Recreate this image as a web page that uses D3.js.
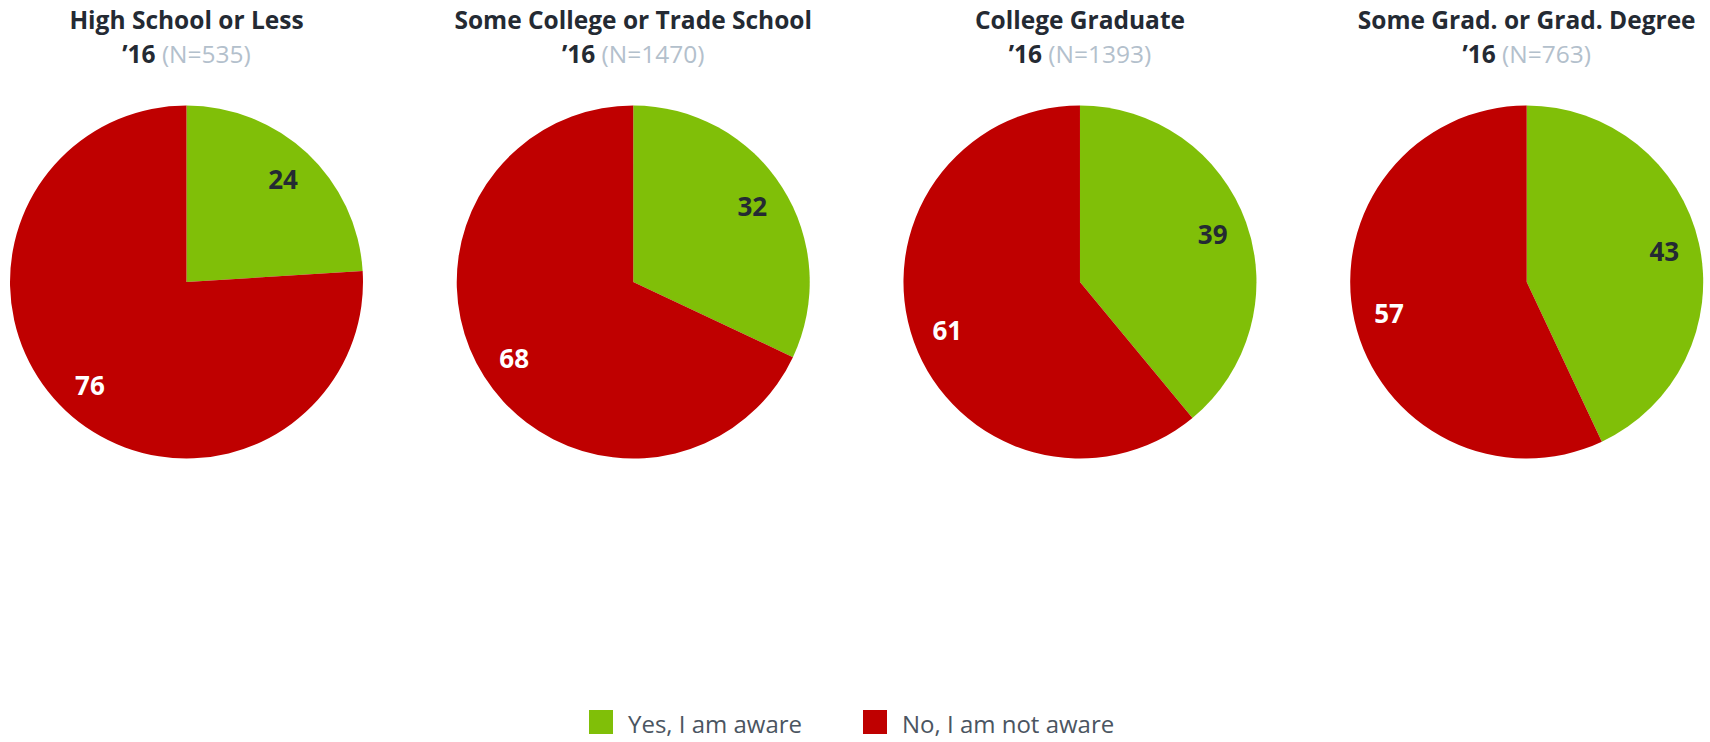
<!DOCTYPE html>
<html>
<head>
<meta charset="utf-8">
<script src="https://cdn.jsdelivr.net/npm/d3@7"></script>
<style>
  html, body { margin: 0; padding: 0; background: #fff; }
  svg { display: block; font-family: "Open Sans", sans-serif; }
</style>
</head>
<body>
<svg id="chart" width="1710" height="742"></svg>
<script>
// Awareness by education level, 2016 survey
const groups = ["High School or Less", "Some College or Trade School", "College Graduate", "Some Grad. or Grad. Degree"];
const sampleSizes = [535, 1470, 1393, 763];
const yearLabel = "\u201916";
const responses = ["Yes, I am aware", "No, I am not aware"];
const yesValues = [24, 32, 39, 43];
const noValues = [76, 68, 61, 57];

const colors = d3.scaleOrdinal().domain(responses).range(["#80bf08", "#bf0000"]);
const labelColors = d3.scaleOrdinal().domain(responses).range(["#242a33", "#ffffff"]);

const svg = d3.select("#chart");

const cx = d3.scalePoint().domain(groups).range([186.5, 1526.7]);
const cy = 282;
const radius = 176.5;

const pie = d3.pie().sort(null).value(d => d.value);
const arc = d3.arc().innerRadius(0).outerRadius(radius);
const labelArc = d3.arc().innerRadius(141).outerRadius(141);

groups.forEach((g, i) => {
  const data = responses.map((r, j) => ({ key: r, value: j === 0 ? yesValues[i] : noValues[i] }));
  const x = cx(g);

  // two-line title: group name, then year and sample size
  svg.append("text")
    .attr("x", x).attr("y", 29)
    .attr("text-anchor", "middle")
    .attr("font-size", 24.5).attr("font-weight", 700).attr("fill", "#242a33")
    .text(g);

  const sub = svg.append("text")
    .attr("x", x).attr("y", 63)
    .attr("text-anchor", "middle")
    .attr("font-size", 24.5);
  sub.append("tspan").attr("font-weight", 700).attr("fill", "#242a33").text(yearLabel);
  sub.append("tspan").attr("font-weight", 400).attr("fill", "#b3c0cc").text(" (N=" + sampleSizes[i] + ")");

  const gp = svg.append("g").attr("transform", `translate(${x},${cy})`);
  const arcs = pie(data);
  gp.selectAll("path").data(arcs).join("path")
    .attr("d", arc)
    .attr("fill", d => colors(d.data.key));

  gp.selectAll("text").data(arcs).join("text")
    .attr("transform", d => `translate(${labelArc.centroid(d)})`)
    .attr("text-anchor", "middle")
    .attr("dominant-baseline", "central")
    .attr("font-size", 26).attr("font-weight", 700)
    .attr("fill", d => labelColors(d.data.key))
    .text(d => d.data.value);
});

// legend
const legend = svg.append("g");
const legendX = [589, 863];
responses.forEach((r, j) => {
  const lg = legend.append("g").attr("transform", `translate(${legendX[j]},710)`);
  lg.append("rect").attr("width", 24).attr("height", 24).attr("fill", colors(r));
  lg.append("text").attr("x", 39).attr("y", 13)
    .attr("dominant-baseline", "central")
    .attr("font-size", 24).attr("fill", "#4b5561")
    .text(r);
});
</script>
</body>
</html>
